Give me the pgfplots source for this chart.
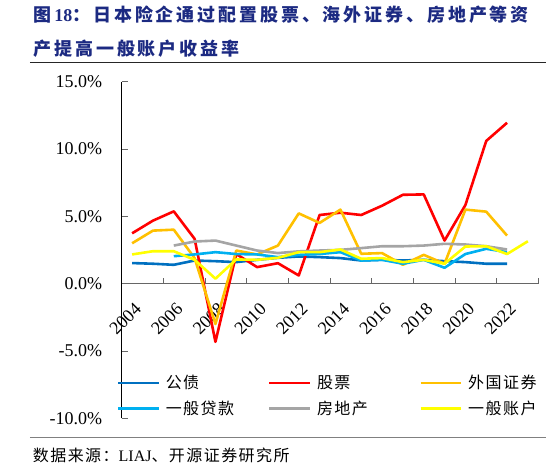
\documentclass[border=0pt]{standalone}
\usepackage{fontspec}
\setmainfont{Liberation Serif}
\newfontfamily\cjk{Noto Sans CJK SC}
\usepackage{pgfplots}
\pgfplotsset{compat=1.18}

\definecolor{titleblue}{RGB}{28,42,130}
\definecolor{cBond}{RGB}{0,112,192}
\definecolor{cStock}{RGB}{255,0,0}
\definecolor{cForeign}{RGB}{255,192,0}
\definecolor{cLoan}{RGB}{0,176,240}
\definecolor{cEstate}{RGB}{165,165,165}
\definecolor{cGeneral}{RGB}{255,255,0}

\begin{document}
\begin{tikzpicture}
\begin{axis}[
  at={(0pt,0pt)}, anchor=south west,
  scale only axis, width=416.6pt, height=336.6pt,
  xmin=0, xmax=20, ymin=-10, ymax=15,
  axis x line*=middle, axis y line*=left,
  hide obscured x ticks=false,
  x axis line style={draw=black!60, line width=0.8pt},
  y axis line style={draw=black, line width=0.8pt},
  tick align=inside, major tick length=6pt,
  tick style={draw=black!60, line width=0.8pt},
  xtick={0,2,4,6,8,10,12,14,16,18,20},
  xticklabels={2004,2006,2008,2010,2012,2014,2016,2018,2020,2022,},
  ytick={-10,-5,0,5,10,15},
  yticklabels={-10.0\%,-5.0\%,0.0\%,5.0\%,10.0\%,15.0\%},
  xticklabel style={font=\fontsize{18}{18}\selectfont, inner sep=0pt,
    xshift=12pt, yshift=-18pt, rotate=45, anchor=north east},
  yticklabel style={font=\fontsize{18}{18}\selectfont, inner sep=0pt,
    anchor=east, xshift=-19.5pt},
  every axis plot/.append style={line width=2.6pt, line join=round},
  clip=false,
  legend columns=3,
  legend cell align=left,
  legend image code/.code={\draw[#1, line width=2.6pt] (0pt,0pt) -- (40.6pt,0pt);},
  legend style={at={(axis description cs:-0.012,0.128)}, anchor=north west,
    draw=none, fill=none, inner sep=0pt, column sep=0pt, row sep=10.6pt,
    font=\cjk\fontsize{16}{16}\selectfont\addfontfeature{LetterSpace=9},
    nodes={inner sep=0pt}},
]
% 公债
\addplot[cBond] coordinates {
 (0.5,1.53) (1.5,1.48) (2.5,1.40) (3.5,1.72) (4.5,1.67) (5.5,1.60) (6.5,1.77)
 (7.5,1.92) (8.5,2.02) (9.5,1.97) (10.5,1.90) (11.5,1.72) (12.5,1.77) (13.5,1.72)
 (14.5,1.77) (15.5,1.67) (16.5,1.60) (17.5,1.48) (18.5,1.48)};
\addlegendentry{\hspace*{5.7pt}\makebox[102.3pt][l]{\strut 公债}}
% 股票
\addplot[cStock] coordinates {
 (0.5,3.74) (1.5,4.68) (2.5,5.37) (3.5,3.33) (4.5,-4.32) (5.5,2.20) (6.5,1.23)
 (7.5,1.52) (8.5,0.61) (9.5,5.10) (10.5,5.27) (11.5,5.10) (12.5,5.79) (13.5,6.60)
 (14.5,6.63) (15.5,3.20) (16.5,5.84) (17.5,10.60) (18.5,11.95)};
\addlegendentry{\hspace*{5.7pt}\makebox[102.3pt][l]{\strut 股票}}
% 外国证券
\addplot[cForeign] coordinates {
 (0.5,3.00) (1.5,3.94) (2.5,4.01) (3.5,1.90) (4.5,-3.00) (5.5,2.46) (6.5,2.17)
 (7.5,2.83) (8.5,5.22) (9.5,4.51) (10.5,5.50) (11.5,2.22) (12.5,2.27) (13.5,1.40)
 (14.5,2.14) (15.5,1.48) (16.5,5.50) (17.5,5.35) (18.5,3.57)};
\addlegendentry{\hspace*{5.7pt}\makebox[102.3pt][l]{\strut 外国证券}}
% 一般贷款
\addplot[cLoan] coordinates {
 (2.5,2.04) (3.5,2.17) (4.5,2.34) (5.5,2.20) (6.5,2.17) (7.5,1.97) (8.5,2.14)
 (9.5,2.20) (10.5,2.34) (11.5,1.72) (12.5,1.77) (13.5,1.48) (14.5,1.77) (15.5,1.18)
 (16.5,2.20) (17.5,2.59) (18.5,2.34)};
\addlegendentry{\hspace*{5.7pt}\makebox[102.3pt][l]{\strut 一般贷款}}
% 房地产
\addplot[cEstate] coordinates {
 (2.5,2.83) (3.5,3.13) (4.5,3.20) (5.5,2.83) (6.5,2.46) (7.5,2.27) (8.5,2.40)
 (9.5,2.46) (10.5,2.51) (11.5,2.64) (12.5,2.78) (13.5,2.78) (14.5,2.83) (15.5,2.96)
 (16.5,2.91) (17.5,2.78) (18.5,2.54)};
\addlegendentry{\hspace*{5.7pt}\makebox[102.3pt][l]{\strut 房地产}}
% 一般账户
\addplot[cGeneral] coordinates {
 (0.5,2.17) (1.5,2.41) (2.5,2.41) (3.5,1.77) (4.5,0.37) (5.5,1.80) (6.5,1.77)
 (7.5,1.92) (8.5,2.34) (9.5,2.34) (10.5,2.54) (11.5,1.85) (12.5,1.90) (13.5,1.60)
 (14.5,1.77) (15.5,1.48) (16.5,2.76) (17.5,2.78) (18.5,2.20) (19.5,3.15)};
\addlegendentry{\hspace*{5.7pt}\makebox[102.3pt][l]{\strut 一般账户}}
\end{axis}

% title, rules and source
\node[anchor=west, inner sep=0pt, text=titleblue] at (-88.4pt,403.3pt)
  {\fontsize{18}{18}\selectfont{\cjk\bfseries\addfontfeature{LetterSpace=16}图}\textbf{18}{\cjk\bfseries\addfontfeature{LetterSpace=16}：日本险企通过配置股票、海外证券、房地产等资}};
\node[anchor=west, inner sep=0pt, text=titleblue] at (-88.4pt,370pt)
  {\fontsize{18}{18}\selectfont\cjk\bfseries\addfontfeature{LetterSpace=16}产提高一般账户收益率};
\draw[line width=0.9pt, black!85] (-91.7pt,356pt) -- (424.3pt,356pt);
\draw[line width=1.3pt, black!50] (-91.7pt,-19.4pt) -- (424.3pt,-19.4pt);
\node[anchor=west, inner sep=0pt] at (-89pt,-36.7pt)
  {\fontsize{16}{16}\selectfont{\cjk\addfontfeature{LetterSpace=9}数据来源：}LIAJ{\cjk\addfontfeature{LetterSpace=9}、开源证券研究所}};

\pgfresetboundingbox
\path[use as bounding box] (-121.7pt,-48.7pt) rectangle (424.3pt,418.3pt);
\end{tikzpicture}
\end{document}
